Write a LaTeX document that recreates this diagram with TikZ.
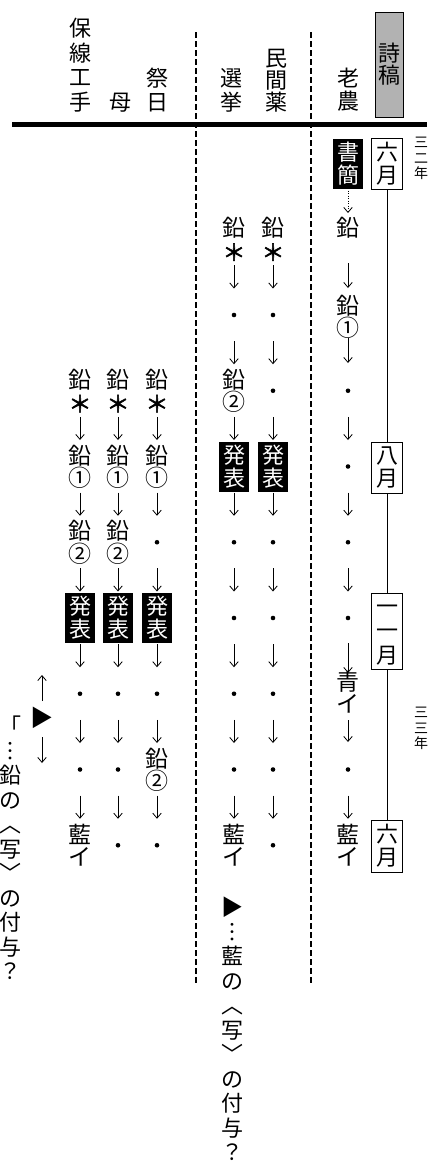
\documentclass[tikz,border=0pt]{standalone}
\usepackage{fontspec}
\setmainfont{Noto Sans CJK JP}
\newfontfamily\heavystar{Noto Sans CJK JP}[FakeBold=2.5]
\usetikzlibrary{arrows.meta}
\newcommand\fsz[2]{\fontsize{#1pt}{#2pt}\selectfont}
\newcommand\hs{{\heavystar ＊}}
\tikzset{
  cell/.style={inner sep=0pt,align=center,font=\fsz{23}{22}},
  leadstar/.style={cell,font=\fsz{23}{24}},
  leadnum/.style={cell,font=\fsz{23}{21}},
  hdr/.style={inner sep=0pt,align=center,anchor=south,font=\fsz{22}{23.5}},
  dotn/.style={circle,fill=black,inner sep=0pt,minimum size=4.6pt},
  blk/.style={fill=black,text=white,minimum width=30pt,minimum height=50pt,inner sep=0pt,align=center,font=\fsz{22}{23}},
  mon/.style={draw=black,fill=white,line width=0.9pt,minimum width=31pt,inner sep=0pt,align=center,font=\fsz{22}{23}},
  flow/.style={-{Straight Barb[length=5pt,width=8.5pt]},line width=0.8pt,shorten <=26pt,shorten >=26.5pt},
  sepline/.style={line width=1.4pt,dash pattern=on 6pt off 3pt},
  tline/.style={line width=0.8pt},
  yr/.style={inner sep=0pt,align=center,anchor=north,font=\fsz{14}{15.5}},
  note/.style={inner sep=0pt,align=center,anchor=north,font=\fsz{22}{24.5}},
}
\begin{document}
\begin{tikzpicture}[x=1pt,y=-1pt]
\useasboundingbox (0,0) rectangle (431,1173);
% headers
\node[hdr,font=\fsz{22}{24.5}] (hA) at (80,112) {保\\線\\工\\手};
\node[hdr] (hB) at (120,112) {母};
\node[hdr] (hC) at (157,112) {祭\\日};
\node[hdr] (hD) at (231,112) {選\\挙};
\node[hdr,font=\fsz{22}{22}] (hE) at (276,112) {民\\間\\薬};
\node[hdr] (hF) at (348,112) {老\\農};
\node[draw=black,fill=black!30,minimum width=28pt,minimum height=105pt,inner sep=0pt,align=center,font=\fsz{22}{22}] (hG) at (389,64.5) {詩\\稿};
% rule and separators
\draw[line width=5pt] (12,124.5) -- (427,124.5);
\draw[sepline] (196,32) -- (196,983);
\draw[sepline] (311,32) -- (311,983);
% time line
\node[mon,minimum height=51pt] (m1) at (387,163.5) {六\\月};
\node[mon,minimum height=51pt] (m2) at (387,467.5) {八\\月};
\node[mon,minimum height=76pt,font=\fsz{22}{24.5}] (m3) at (387,631) {\vphantom{月}一\\一\\月};
\node[mon,minimum height=52pt] (m4) at (387,846) {六\\月};
\draw[tline] (m1) -- (m2);
\draw[tline] (m2) -- (m3);
\draw[tline] (m3) -- (m4);
\node[yr] (y1) at (421,137) {三\\二\\年};
\node[yr] (y2) at (421,707) {三\\三\\年};
% column A (保線工手)
\node[leadstar] (a3) at (80,390.75) {鉛\\\hs};
\node[leadnum] (a4) at (80,466.5) {鉛\\①};
\node[leadnum] (a5) at (80,542.25) {鉛\\②};
\node[blk] (a6) at (80,618) {発\\表};
\node[dotn] (a7) at (80,693.75) {};
\node[dotn] (a8) at (80,769.5) {};
\node[cell] (a9) at (80,845.25) {藍\\イ};
% column B (母)
\node[leadstar] (b3) at (118,390.75) {鉛\\\hs};
\node[leadnum] (b4) at (118,466.5) {鉛\\①};
\node[leadnum] (b5) at (118,542.25) {鉛\\②};
\node[blk] (b6) at (118,618) {発\\表};
\node[dotn] (b7) at (118,693.75) {};
\node[dotn] (b8) at (118,769.5) {};
\node[dotn] (b9) at (118,845.25) {};
% column C (祭日)
\node[leadstar] (c3) at (157,390.75) {鉛\\\hs};
\node[leadnum] (c4) at (157,466.5) {鉛\\①};
\node[dotn] (c5) at (157,542.25) {};
\node[blk] (c6) at (157,618) {発\\表};
\node[dotn] (c7) at (157,693.75) {};
\node[leadnum] (c8) at (157,769.5) {鉛\\②};
\node[dotn] (c9) at (157,845.25) {};
% column D (選挙)
\node[leadstar] (d1) at (234,239.25) {鉛\\\hs};
\node[dotn] (d2) at (234,315) {};
\node[leadnum] (d3) at (234,390.75) {鉛\\②};
\node[blk] (d4) at (234,466.5) {発\\表};
\node[dotn] (d5) at (234,542.25) {};
\node[dotn] (d6) at (234,618) {};
\node[dotn] (d7) at (234,693.75) {};
\node[dotn] (d8) at (234,769.5) {};
\node[cell] (d9) at (234,845.25) {藍\\イ};
% column E (民間薬)
\node[leadstar] (e1) at (273,239.25) {鉛\\\hs};
\node[dotn] (e2) at (273,315) {};
\node[dotn] (e3) at (273,390.75) {};
\node[blk] (e4) at (273,466.5) {発\\表};
\node[dotn] (e5) at (273,542.25) {};
\node[dotn] (e6) at (273,618) {};
\node[dotn] (e7) at (273,693.75) {};
\node[dotn] (e8) at (273,769.5) {};
\node[dotn] (e9) at (273,845.25) {};
\foreach \p/\q in {a3/a4,a4/a5,a5/a6,a6/a7,a7/a8,a8/a9,
                   b3/b4,b4/b5,b5/b6,b6/b7,b7/b8,b8/b9,
                   c3/c4,c4/c5,c5/c6,c6/c7,c7/c8,c8/c9,
                   d1/d2,d2/d3,d3/d4,d4/d5,d5/d6,d6/d7,d7/d8,d8/d9,
                   e1/e2,e2/e3,e3/e4,e4/e5,e5/e6,e6/e7,e7/e8,e8/e9}
  \draw[flow] (\p.center) -- (\q.center);
% column F (老農)
\node[blk] (f0) at (348,163.5) {書\\簡};
\node[cell] (f1) at (348,228) {鉛};
\node[leadnum] (f2) at (348,317) {鉛\\①};
\node[dotn] (f3) at (348,390.75) {};
\node[dotn] (f4) at (348,466.5) {};
\node[dotn] (f5) at (348,542.25) {};
\node[dotn] (f6) at (348,618) {};
\node[cell] (f7) at (348,692) {青\\イ};
\node[dotn] (f8) at (348,769.5) {};
\node[cell] (f9) at (348,845.25) {藍\\イ};
\draw[flow,dash pattern=on 1pt off 1.5pt,shorten <=24.5pt,shorten >=15pt] (f0.center) -- (f1.center);
\draw[flow,shorten <=35pt,shorten >=29pt] (f1.center) -- (f2.center);
\draw[flow,shorten <=21pt,shorten >=27.75pt] (f2.center) -- (f3.center);
\draw[flow] (f3.center) -- (f4.center);
\draw[flow] (f4.center) -- (f5.center);
\draw[flow] (f5.center) -- (f6.center);
\draw[flow,shorten <=25pt,shorten >=19pt] (f6.center) -- (f7.center);
\draw[flow,shorten <=28pt,shorten >=27.5pt] (f7.center) -- (f8.center);
\draw[flow] (f8.center) -- (f9.center);
% notes
\node[cell] (tri) at (42,718) {▶};
\coordinate (upS) at (42,701);
\coordinate (upE) at (42,675);
\coordinate (dnS) at (42,737);
\coordinate (dnE) at (42,763);
\draw[flow,shorten <=0pt,shorten >=0pt] (upS) -- (upE);
\draw[flow,shorten <=0pt,shorten >=0pt] (dnS) -- (dnE);
\node[note] (n1) at (10,716) {「\\︙\\鉛\\の\\︿\\写\\﹀\\の\\付\\与\\？};
\node[note] (n2) at (232,897) {▶\\︙\\藍\\の\\︿\\写\\﹀\\の\\付\\与\\？};
\end{tikzpicture}
\end{document}
